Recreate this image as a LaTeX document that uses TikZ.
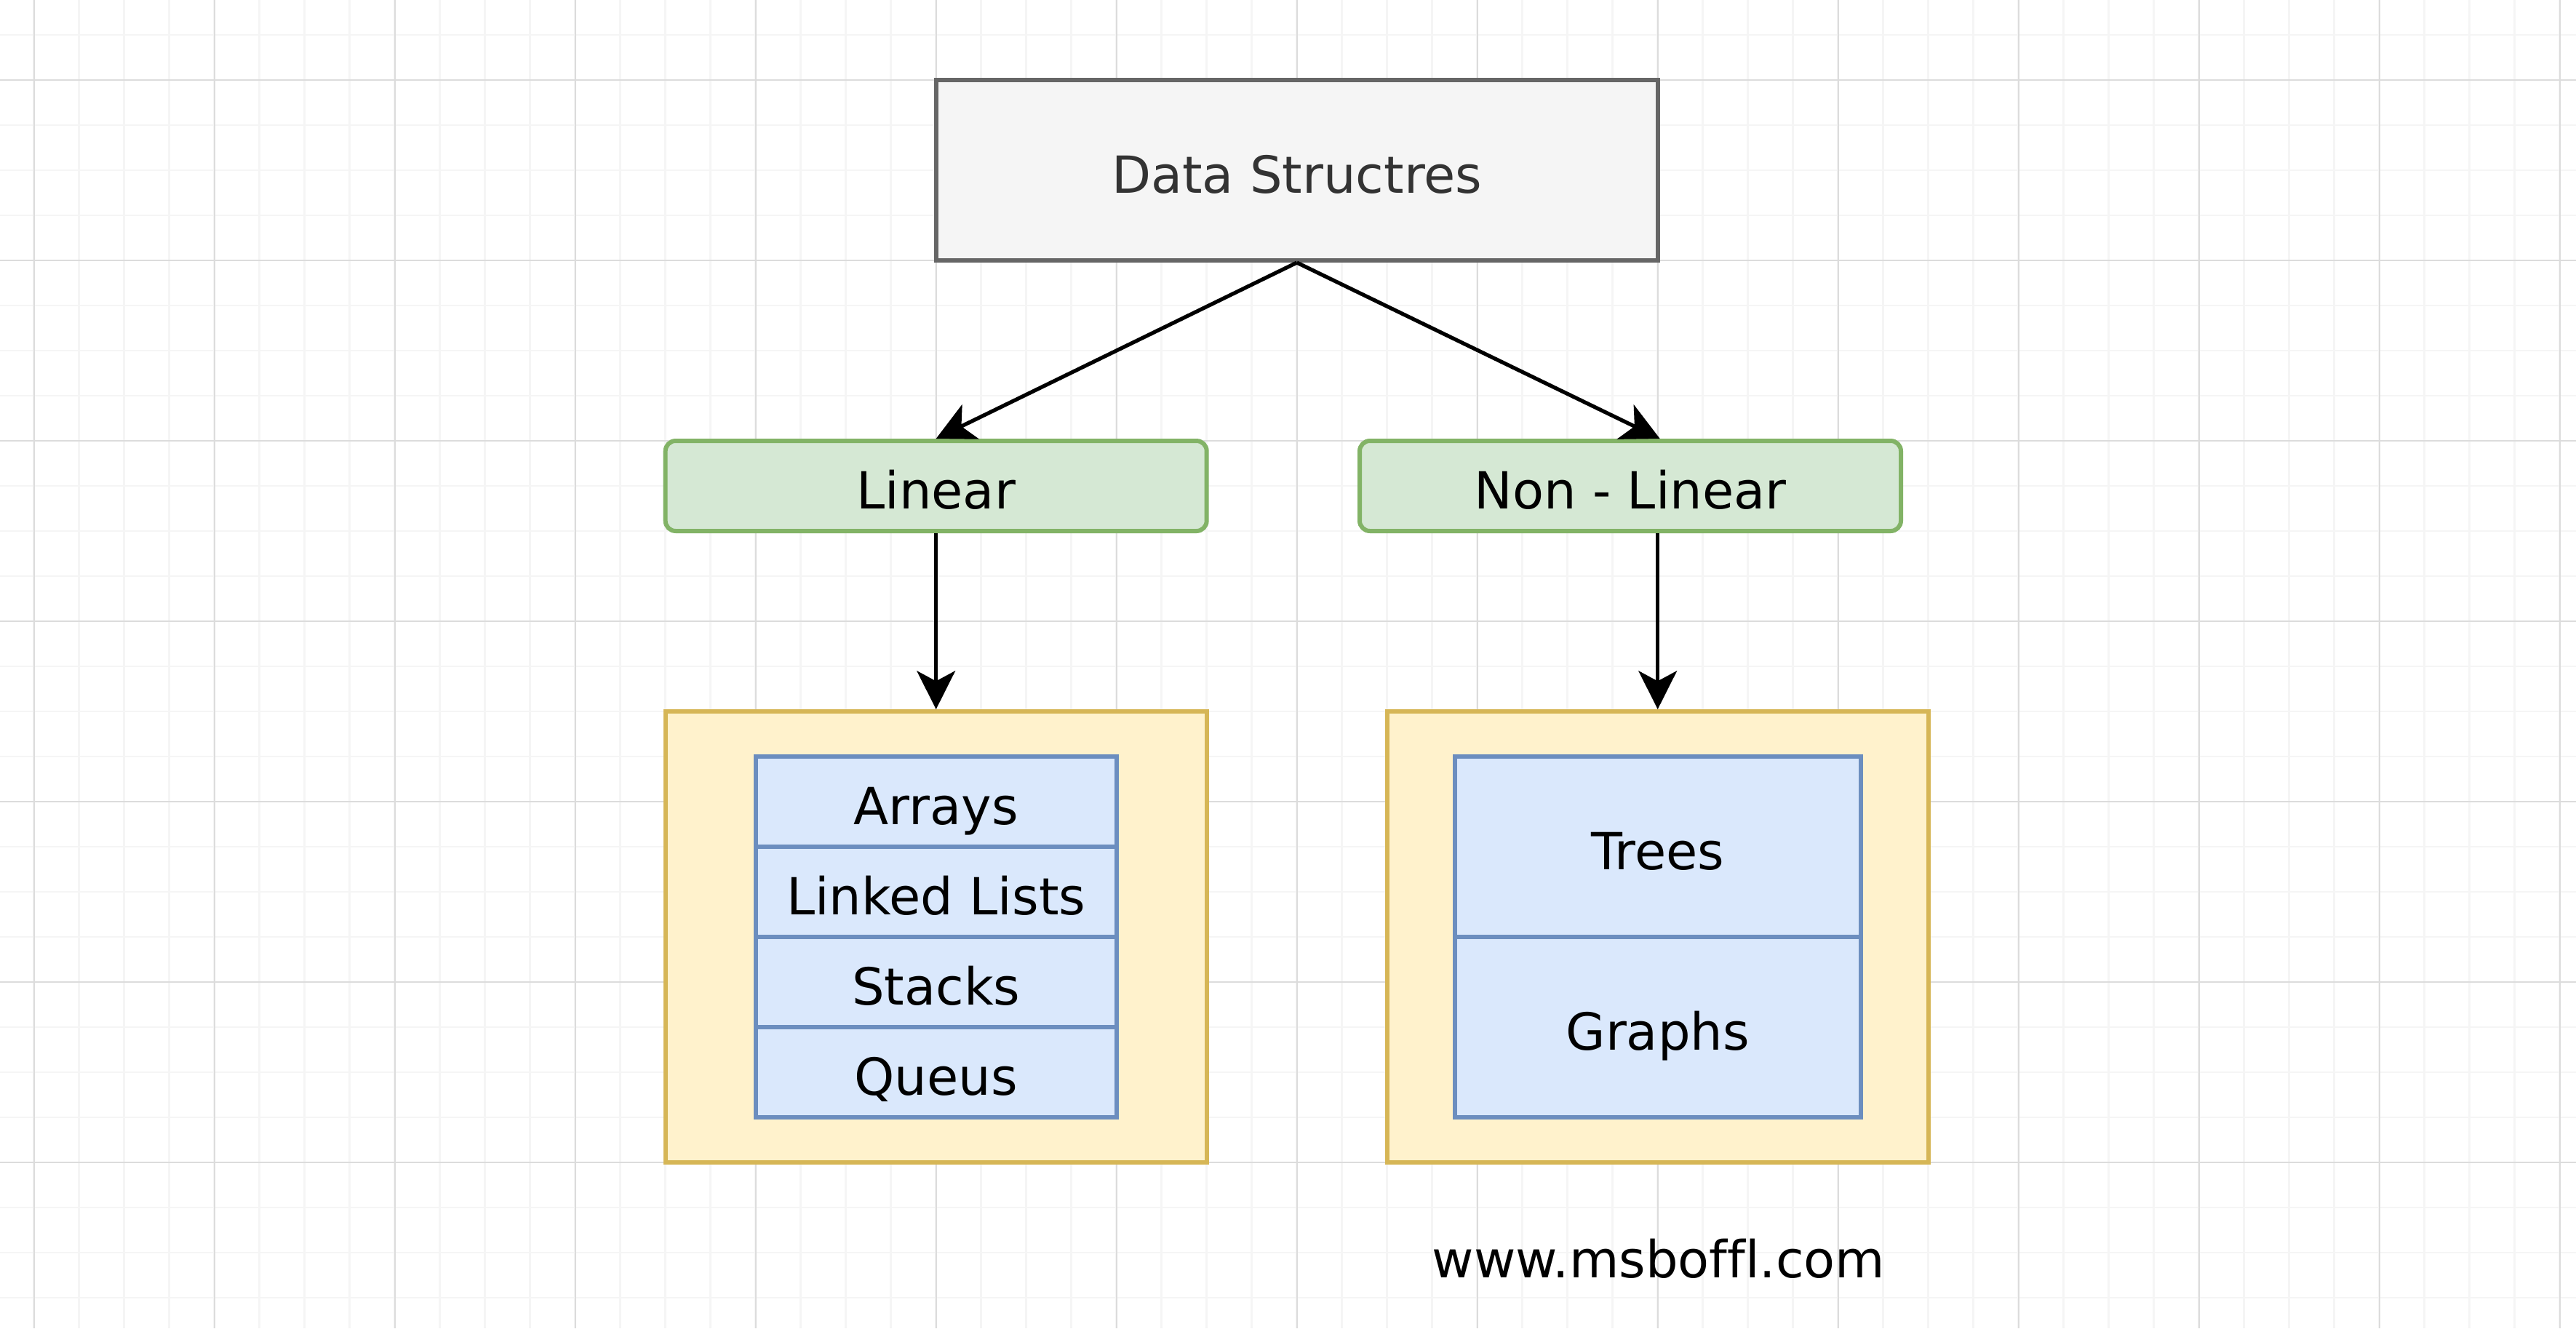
\documentclass[tikz,border=0pt]{standalone}
\usepackage{fontspec}
\setmainfont[Ligatures=NoCommon]{DejaVu Sans}
\usetikzlibrary{arrows.meta}

\definecolor{dsfill}{HTML}{F5F5F5}
\definecolor{dsline}{HTML}{666666}
\definecolor{dstext}{HTML}{333333}
\definecolor{kindfill}{HTML}{D5E8D4}
\definecolor{kindline}{HTML}{82B366}
\definecolor{grpfill}{HTML}{FFF2CC}
\definecolor{grpline}{HTML}{D6B656}
\definecolor{itemfill}{HTML}{DAE8FC}
\definecolor{itemline}{HTML}{6C8EBF}
\definecolor{gridminor}{HTML}{F5F5F5}
\definecolor{gridmajor}{HTML}{DCDCDC}

\tikzset{
  txt/.style={inner sep=0pt, font=\fontsize{20}{24}\selectfont, text height=19pt, text depth=1pt},
  rootbox/.style={txt, draw=dsline, fill=dsfill, text=dstext, line width=1.7pt, minimum width=9.92cm, minimum height=2.48cm},
  kindbox/.style={txt, draw=kindline, fill=kindfill, rounded corners=4pt, line width=1.7pt, minimum width=7.44cm, minimum height=1.24cm},
  grpbox/.style={draw=grpline, fill=grpfill, line width=1.7pt, minimum width=7.44cm, minimum height=6.20cm},
  itembox/.style={txt, draw=itemline, fill=itemfill, line width=1.7pt},
  link/.style={-{Stealth[length=15pt, width=15pt, inset=4pt]}, line width=1.5pt},
}

\begin{document}
\begin{tikzpicture}
  \useasboundingbox (0,0) rectangle (35.41,-18.26);

  % Background grid
  \fill[white] (0,0) rectangle (35.41,-18.26);
  \begin{scope}[shift={(0.467,-0.48)}]
    \draw[gridminor, line width=0.8pt, step=0.62] (-0.467,-17.78) grid (34.943,0.48);
  \end{scope}
  \begin{scope}[shift={(0.467,-1.10)}]
    \draw[gridmajor, line width=0.6pt, step=2.48] (-0.467,-17.16) grid (34.943,1.10);
  \end{scope}

  % Root
  \node[rootbox] (ds) at (17.827,-2.34) {Data Structres};

  % Two kinds
  \node[kindbox] (lin) at (12.867,-6.68) {Linear};
  \node[kindbox] (nonlin) at (22.41,-6.68) {Non - Linear};

  % Containers
  \node[grpbox] (lingrp) at (12.867,-12.88) {};
  \node[grpbox] (nongrp) at (22.787,-12.88) {};

  % Linear structures
  \node[itembox, minimum width=4.96cm, minimum height=1.24cm] (arr) at (12.867,-11.02) {Arrays};
  \node[itembox, minimum width=4.96cm, minimum height=1.24cm] (lls) at (12.867,-12.26) {Linked Lists};
  \node[itembox, minimum width=4.96cm, minimum height=1.24cm] (stk) at (12.867,-13.50) {Stacks};
  \node[itembox, minimum width=4.96cm, minimum height=1.24cm] (que) at (12.867,-14.74) {Queus};

  % Non-linear structures
  \node[itembox, minimum width=5.58cm, minimum height=2.48cm] (trees) at (22.787,-11.64) {Trees};
  \node[itembox, minimum width=5.58cm, minimum height=2.48cm] (graphs) at (22.787,-14.12) {Graphs};

  % Connectors
  \draw[link] (ds.south) -- (lin.north);
  \draw[link] (ds.south) -- (ds.south east |- nonlin.north);
  \draw[link] (lin.south) -- (lingrp.north);
  \draw[link] (nonlin.south -| nongrp.north) -- (nongrp.north);

  % Watermark
  \node[anchor=base, font=\fontsize{20}{24}\selectfont] (site) at (22.80,-17.56) {www.msboffl.com};
\end{tikzpicture}
\end{document}
